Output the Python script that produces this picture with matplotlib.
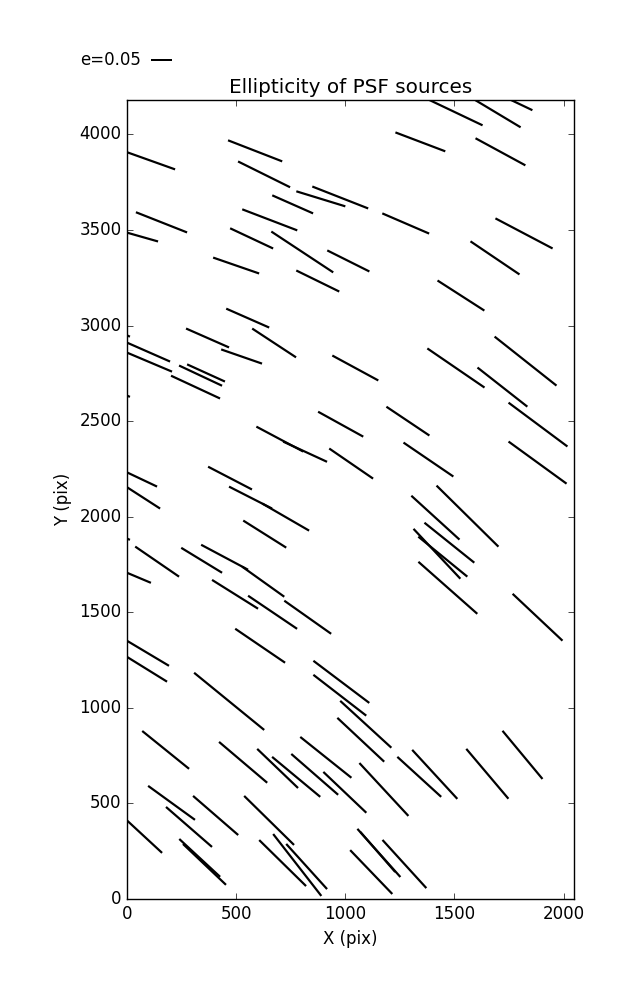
import matplotlib
matplotlib.use("Agg")
import matplotlib.pyplot as plt

# Ellipticity whiskers of PSF stars: centre (x, y) in pix and (e_x, e_y) components

x_pos = [1505, 1700, 1752, 1344, 1711, 110, 587, 628, 888, 977,
         759, 158, 28, 654, 571, 803, 1014, 500, 874, 1277,
         1819, 1686, 1530, 553, 369, 674, 525, 83, 92, 337,
         362, 314, 1046, 979, 700, 816, 1027, 472, 566, 727,
         46, 60, 1826, 1507, 1720, 1883, 1881, 1287, 1381, 1560,
         1413, 631, 138, 342, 447, 624, 16, 495, 667, 828,
         610, 85, 80, 468, 982, 975, 1094, 1477, 1420, 1447,
         1470, 1881, 177, 532, 690, 775, 860, 911, 998, 204,
         284, 406, 69, 651, 333, 355, 713, 780, 823, 1119,
         1071, 1177, 1339, 1410, 1651, 1812, 1154, 1149, 1271,
         -95, -95, -95]
y_pos = [4115, 4108, 4184, 3961, 3909, 3862, 3914, 3791, 3663, 3670,
         3634, 3540, 3477, 3553, 3456, 3385, 3338, 3314, 3233, 3534,
         3482, 3354, 3157, 3039, 2935, 2909, 2838, 2869, 2814, 2738,
         2752, 2678, 2778, 2484, 2406, 2340, 2278, 2202, 2100, 1998,
         2207, 2110, 2814, 2778, 2678, 2482, 2283, 2500, 2299, 2003,
         1995, 1909, 1765, 1772, 1788, 1660, 1699, 1594, 1500, 1474,
         1325, 1293, 1210, 1034, 1136, 1066, 914, 1864, 1806, 1791,
         1628, 1474, 780, 715, 683, 639, 652, 741, 558, 503,
         377, 437, 338, 411, 215, 181, 188, 178, 170, 141,
         833, 573, 639, 652, 655, 754, 241, 246, 183,
         2998, 2683, 1935]
e_x = [.126, .105, .107, .116, .116, .112, .126, .121, .114, .130,
       .095, .119, .116, .128, .100, .144, .098, .107, .100, .109,
       .133, .114, .109, .100, .100, .102, .095, .116, .116, .100,
       .088, .114, .107, .105, .109, .102, .102, .102, .100, .109,
       .093, .093, .144, .133, .116, .137, .135, .100, .116, .144,
       .112, .100, .102, .095, .109, .098, .095, .107, .114, .109,
       .116, .109, .105, .163, .130, .123, .119, .116, .109, .114,
       .137, .116, .109, .112, .095, .112, .109, .119, .100, .109,
       .107, .105, .093, .116, .095, .100, .109, .112, .095, .098,
       .109, .114, .102, .105, .098, .093, .100, .081, .102,
       .110, .110, .110]
e_y = [-.060, -.063, -.051, -.044, -.063, -.040, -.049, -.060, -.035, -.051,
       -.042, -.047, -.033, -.049, -.047, -.095, -.049, -.037, -.049, -.047,
       -.070, -.077, -.070, -.044, -.044, -.067, -.033, -.051, -.049, -.047,
       -.040, -.053, -.058, -.058, -.058, -.047, -.070, -.053, -.051, -.063,
       -.044, -.060, -.114, -.091, -.091, -.102, -.098, -.067, -.079, -.142,
       -.102, -.063, -.070, -.058, -.058, -.070, -.040, -.067, -.077, -.077,
       -.079, -.065, -.065, -.133, -.098, -.095, -.109, -.093, -.116, -.093,
       -.121, -.109, -.088, -.095, -.091, -.093, -.095, -.095, -.095, -.079,
       -.093, -.091, -.086, -.114, -.088, -.095, -.107, -.144, -.105, -.102,
       -.102, -.123, -.093, -.114, -.116, -.112, -.112, -.093, -.112,
       -.050, -.050, -.050]

key_e = 0.05

plt.style.use("classic")
plt.rcParams["figure.facecolor"] = "white"
plt.rcParams["savefig.facecolor"] = "white"

fig = plt.figure(figsize=(6.37, 10), dpi=100)
ax = fig.add_axes([0.1994, 0.101, 0.7017, 0.799])

q = ax.quiver(x_pos, y_pos, e_x, e_y, pivot="middle",
              headwidth=0, headlength=0, headaxislength=0,
              scale=0.2326, scale_units="inches", units="dots", width=2.2,
              color="k")
ax.quiverkey(q, 0.237, 0.94, key_e, "e=%.2f" % key_e, labelpos="W",
             coordinates="figure", fontproperties={"size": 12})

ax.set_xlim(0, 2048)
ax.set_ylim(0, 4180)
ax.set_xticks([0, 500, 1000, 1500, 2000])
ax.set_yticks(range(0, 4001, 500))
ax.set_title("Ellipticity of PSF sources")
ax.set_xlabel("X (pix)")
ax.set_ylabel("Y (pix)")

fig.savefig("out.png", dpi=100)
